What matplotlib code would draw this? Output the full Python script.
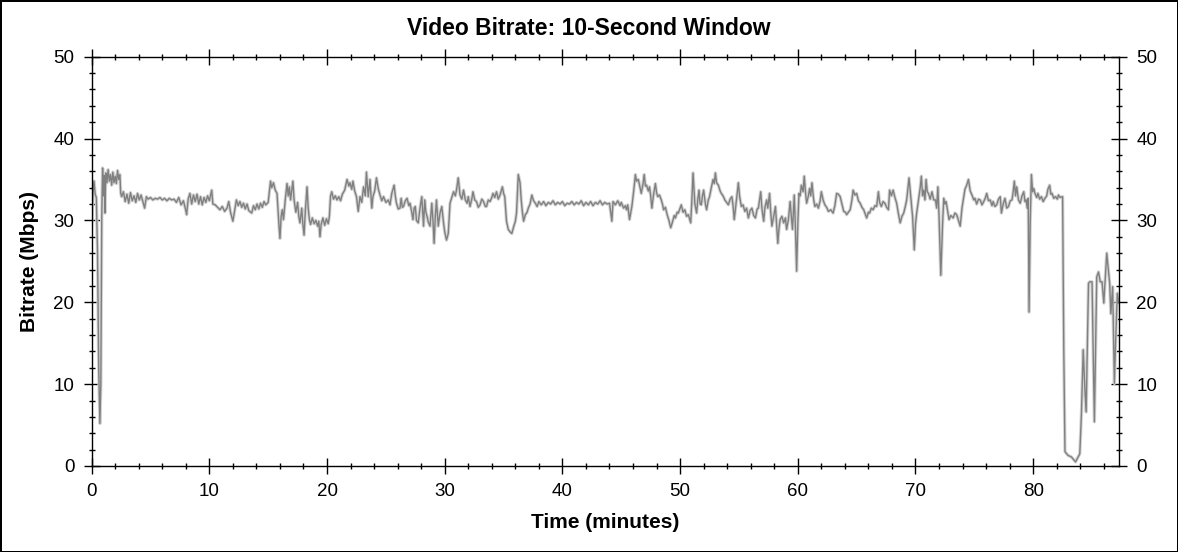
import matplotlib
matplotlib.use("Agg")
import matplotlib.pyplot as plt
from matplotlib.ticker import MultipleLocator

plt.rcParams['font.family'] = ['Liberation Sans', 'DejaVu Sans']

# (minutes, Mbps), segment by segment
opening = [
    (0.0, 29.5), (0.1, 33.0), (0.2, 34.8), (0.3, 33.2), (0.4, 32.8), (0.5, 26.0),
    (0.6, 12.0), (0.7, 5.2), (0.78, 10.0), (0.86, 30.5), (0.93, 36.4), (1.0, 33.0),
    (1.08, 35.5), (1.13, 30.9), (1.2, 35.8), (1.3, 34.6), (1.4, 36.2), (1.5, 34.8),
    (1.6, 35.6), (1.7, 34.3), (1.8, 35.9), (1.9, 34.6), (2.0, 35.4), (2.1, 34.5),
    (2.2, 36.1), (2.3, 35.0), (2.4, 35.6), (2.47, 33.3), (2.55, 32.9), (2.7, 33.5),
    (2.85, 32.3), (3.0, 33.2), (3.15, 32.1), (3.3, 33.4), (3.45, 32.4), (3.6, 33.0),
    (3.75, 32.2), (3.9, 33.3), (4.05, 32.5), (4.2, 33.1), (4.35, 32.3), (4.5, 31.5),
    (4.65, 32.9), (4.8, 32.6), (5.0, 32.8), (5.2, 32.5), (5.4, 32.7), (5.6, 32.6),
    (5.8, 32.8), (6.0, 32.5), (6.2, 32.7), (6.4, 32.4), (6.6, 32.7), (6.8, 32.5),
    (7.0, 32.6), (7.2, 32.2), (7.4, 32.8), (7.6, 31.9), (7.8, 32.4), (8.0, 31.2),
    (8.07, 30.7), (8.2, 32.6), (8.35, 33.3), (8.5, 32.0), (8.65, 33.1), (8.8, 32.3),
    (8.95, 33.2), (9.1, 32.0), (9.25, 32.9), (9.4, 31.9), (9.55, 32.8), (9.7, 32.2),
    (9.85, 33.0), (10.0, 32.4), (10.2, 33.7), (10.3, 32.0), (10.5, 31.9), (10.7, 31.6),
    (10.9, 31.3), (11.1, 31.7), (11.3, 31.1), (11.5, 31.5), (11.65, 32.3), (11.8, 31.0),
    (12.0, 29.9), (12.15, 31.2), (12.3, 32.5), (12.45, 31.8), (12.6, 32.3), (12.75, 31.6),
    (12.9, 32.1), (13.05, 31.4), (13.2, 32.0), (13.35, 31.2), (13.6, 30.9), (13.75, 31.8),
    (13.9, 31.3), (14.05, 32.0), (14.2, 31.4), (14.35, 32.1), (14.5, 31.6), (14.65, 32.3),
    (14.8, 31.9), (15.0, 32.2), (15.1, 33.5), (15.2, 34.8), (15.3, 34.0), (15.45, 34.6),
    (15.6, 33.7), (15.75, 33.3), (15.85, 31.0), (15.92, 29.3), (16.0, 27.8), (16.1, 30.5),
    (16.2, 31.3), (16.3, 30.1), (16.45, 32.5), (16.6, 34.5), (16.7, 33.0), (16.8, 34.1),
    (16.9, 32.5), (17.0, 33.6), (17.1, 34.8), (17.2, 32.5), (17.35, 31.0), (17.5, 32.2),
    (17.6, 30.5), (17.7, 29.7), (17.85, 31.5), (17.95, 29.5), (18.05, 28.2), (18.15, 31.0),
    (18.3, 34.1), (18.4, 31.5), (18.5, 30.1), (18.6, 29.5), (18.75, 30.3), (18.9, 29.6),
    (19.05, 30.0), (19.2, 29.3), (19.3, 29.9), (19.4, 28.0), (19.5, 29.5), (19.65, 30.3),
    (19.8, 29.4), (19.95, 30.2), (20.1, 29.6), (20.2, 30.5), (20.3, 33.0), (20.4, 33.5),
    (20.55, 32.6), (20.7, 33.0), (20.85, 32.5), (21.0, 32.9), (21.15, 32.4), (21.3, 33.2),
    (21.5, 33.7),
]

middle = [
    (21.7, 35.0), (21.85, 34.2), (21.95, 34.6), (22.1, 33.8), (22.2, 34.8), (22.35, 33.6),
    (22.5, 32.9), (22.65, 31.1), (22.8, 32.9), (22.95, 32.2), (23.1, 34.1), (23.25, 33.0),
    (23.35, 35.9), (23.5, 32.9), (23.65, 35.0), (23.8, 31.5), (23.9, 32.9), (24.05, 33.6),
    (24.2, 35.2), (24.35, 33.9), (24.5, 33.1), (24.65, 32.4), (24.8, 32.9), (25.0, 32.2),
    (25.2, 32.5), (25.35, 31.9), (25.5, 33.3), (25.7, 34.3), (25.8, 33.0), (25.9, 32.1),
    (26.05, 31.4), (26.2, 31.5), (26.3, 32.7), (26.4, 31.6), (26.5, 31.7), (26.65, 32.4),
    (26.8, 32.7), (26.95, 31.8), (27.05, 32.1), (27.2, 31.0), (27.3, 30.1), (27.4, 31.5),
    (27.5, 31.7), (27.6, 30.0), (27.75, 29.7), (27.9, 31.5), (28.05, 32.9), (28.15, 30.4),
    (28.2, 29.3), (28.3, 32.5), (28.4, 31.0), (28.5, 30.5), (28.6, 29.8), (28.75, 29.3),
    (28.9, 32.1), (29.0, 30.0), (29.1, 27.2), (29.2, 30.5), (29.3, 32.5), (29.45, 29.3),
    (29.6, 30.9), (29.75, 31.7), (29.9, 29.7), (30.0, 28.6), (30.15, 27.6), (30.3, 28.4),
    (30.45, 32.1), (30.6, 32.8), (30.75, 33.5), (30.9, 33.0), (31.0, 33.7), (31.15, 35.2),
    (31.3, 33.1), (31.45, 32.6), (31.6, 33.7), (31.75, 32.5), (31.9, 32.1), (32.0, 32.9),
    (32.15, 31.7), (32.3, 32.6), (32.4, 33.5), (32.55, 32.5), (32.7, 32.3), (32.85, 31.6),
    (33.0, 31.9), (33.15, 32.6), (33.3, 32.3), (33.45, 31.7), (33.55, 31.7), (33.7, 32.5),
    (33.85, 32.3), (34.0, 32.8), (34.1, 33.3), (34.25, 32.8), (34.4, 33.5), (34.55, 32.6),
    (34.7, 33.1), (34.9, 34.1), (35.0, 33.3), (35.1, 32.9), (35.25, 29.9), (35.4, 28.9),
    (35.55, 28.6), (35.7, 28.4), (35.85, 29.2), (36.0, 29.9), (36.1, 30.9), (36.25, 35.6),
    (36.4, 34.6), (36.5, 32.5), (36.6, 31.0), (36.7, 29.9), (36.85, 30.7), (37.0, 31.0),
    (37.1, 31.5), (37.25, 32.0), (37.4, 33.1), (37.55, 32.4), (37.7, 32.1), (37.85, 31.7),
    (38.0, 32.3), (38.2, 31.9), (38.4, 32.3), (38.6, 31.8), (38.8, 32.2), (39.0, 32.0),
    (39.2, 32.4), (39.4, 31.9), (39.6, 32.2), (39.8, 32.0), (40.0, 32.3), (40.2, 31.8),
    (40.4, 32.1), (40.6, 32.0), (40.8, 32.3), (41.0, 31.9), (41.2, 32.2), (41.4, 32.0),
    (41.6, 32.4), (41.8, 31.8), (42.0, 32.2), (42.2, 31.9), (42.4, 32.3), (42.6, 31.8),
    (42.8, 32.2), (43.0, 32.0), (43.2, 32.4), (43.4, 31.9), (43.6, 32.2), (43.8, 32.0),
    (44.0, 32.1), (44.2, 29.9), (44.3, 32.3), (44.5, 31.9), (44.7, 32.4), (44.9, 31.8),
    (45.0, 32.2), (45.2, 31.5), (45.35, 31.8), (45.45, 31.3), (45.55, 31.9), (45.7, 30.1),
    (45.9, 31.7), (46.05, 33.5), (46.2, 35.6), (46.3, 34.8), (46.45, 35.0), (46.6, 34.0),
    (46.7, 33.3), (46.85, 34.5), (46.95, 35.6), (47.05, 34.2), (47.15, 34.3), (47.3, 33.6),
    (47.4, 34.1), (47.5, 33.0), (47.6, 31.5), (47.75, 33.2), (47.9, 34.5), (48.0, 33.4),
    (48.1, 32.9), (48.25, 33.1), (48.4, 32.5), (48.5, 32.0), (48.6, 31.3), (48.75, 31.6),
    (48.9, 30.7), (49.05, 30.0), (49.2, 29.1), (49.35, 29.8), (49.5, 30.6), (49.6, 30.3),
    (49.75, 31.0), (49.85, 30.9), (50.0, 31.5), (50.1, 31.9), (50.25, 31.0), (50.4, 31.3),
    (50.55, 30.5), (50.7, 30.7), (50.8, 30.2), (50.9, 29.7), (51.0, 32.5), (51.1, 35.8),
    (51.25, 32.1), (51.4, 30.9), (51.5, 32.5), (51.6, 33.7), (51.7, 32.0), (51.8, 31.9),
    (51.9, 33.0), (52.0, 33.7), (52.15, 32.0), (52.25, 31.3), (52.4, 32.5), (52.5, 32.9),
    (52.65, 34.0), (52.8, 35.0), (52.9, 34.5), (53.0, 35.8), (53.1, 34.6), (53.25, 34.3),
    (53.4, 33.6), (53.5, 33.3), (53.65, 33.0), (53.8, 32.5), (53.95, 32.2), (54.1, 31.9),
    (54.25, 32.6), (54.4, 32.9), (54.5, 31.8), (54.6, 30.1), (54.75, 32.0), (54.95, 34.6),
    (55.05, 33.0), (55.2, 31.7), (55.35, 31.9), (55.5, 31.1), (55.65, 31.5), (55.8, 30.3),
    (55.95, 31.2), (56.1, 31.5), (56.25, 30.6), (56.4, 30.3), (56.55, 31.4), (56.65, 31.5),
    (56.75, 32.5), (56.85, 33.5), (56.95, 31.5), (57.1, 29.9), (57.2, 31.5), (57.35, 32.5),
    (57.45, 31.5), (57.6, 33.3), (57.7, 31.0), (57.8, 29.3), (57.95, 30.5), (58.1, 31.7),
    (58.2, 29.5), (58.3, 27.2), (58.4, 29.0), (58.5, 30.1), (58.65, 30.5), (58.8, 29.7),
    (58.95, 30.3), (59.05, 28.9), (59.2, 30.1), (59.35, 32.3), (59.45, 30.5), (59.55, 28.9),
    (59.7, 33.1), (59.8, 29.0), (59.9, 23.8), (60.0, 29.5), (60.1, 33.3), (60.2, 33.0),
]

late = [
    (60.3, 34.3), (60.45, 33.5), (60.55, 35.4), (60.65, 33.5), (60.75, 32.1), (60.9, 33.0),
    (61.0, 33.9), (61.1, 33.0), (61.2, 34.6), (61.35, 32.5), (61.45, 31.7), (61.6, 32.0),
    (61.75, 31.5), (61.9, 32.4), (62.0, 33.5), (62.15, 32.5), (62.3, 31.9), (62.45, 31.6),
    (62.6, 31.1), (62.8, 31.3), (63.0, 30.9), (63.15, 31.8), (63.3, 33.3), (63.45, 33.2),
    (63.6, 32.9), (63.75, 32.0), (63.9, 31.1), (64.05, 31.0), (64.15, 30.7), (64.3, 31.0),
    (64.45, 31.3), (64.6, 32.5), (64.7, 33.7), (64.85, 33.1), (65.0, 33.3), (65.15, 32.4),
    (65.3, 32.1), (65.45, 31.6), (65.6, 31.3), (65.75, 30.7), (65.85, 30.3), (66.0, 31.0),
    (66.1, 30.9), (66.25, 31.5), (66.4, 31.3), (66.55, 31.8), (66.7, 31.7), (66.85, 33.5),
    (66.95, 32.2), (67.1, 31.7), (67.25, 32.3), (67.4, 32.1), (67.55, 31.6), (67.7, 31.3),
    (67.8, 33.7), (67.95, 33.0), (68.1, 33.7), (68.25, 32.8), (68.4, 32.1), (68.55, 30.8),
    (68.7, 29.7), (68.85, 30.5), (69.0, 30.9), (69.15, 31.8), (69.25, 32.5), (69.35, 33.8),
    (69.45, 35.2), (69.6, 32.9), (69.75, 30.5), (69.9, 26.4), (70.0, 29.5), (70.1, 30.9),
    (70.25, 32.5), (70.4, 34.0), (70.5, 35.4), (70.6, 33.0), (70.7, 33.7), (70.8, 32.5),
    (70.9, 35.0), (71.0, 33.5), (71.1, 33.3), (71.25, 32.6), (71.4, 33.5), (71.55, 32.5),
    (71.7, 32.5), (71.8, 31.5), (71.9, 34.1), (72.0, 30.5), (72.15, 23.3), (72.3, 29.5),
    (72.4, 32.7), (72.5, 32.0), (72.6, 32.3), (72.75, 31.0), (72.85, 30.1), (73.0, 30.6),
    (73.2, 30.3), (73.35, 30.9), (73.5, 30.7), (73.65, 30.0), (73.8, 29.3), (73.95, 31.5),
    (74.1, 32.9), (74.2, 33.8), (74.35, 34.3), (74.5, 35.0), (74.65, 33.6), (74.8, 33.1),
    (74.95, 32.5), (75.05, 32.7), (75.2, 32.0), (75.35, 32.6), (75.5, 32.5), (75.65, 31.9),
    (75.8, 32.3), (75.95, 32.8), (76.05, 33.3), (76.2, 32.4), (76.35, 32.5), (76.5, 31.8),
    (76.6, 32.3), (76.75, 31.7), (76.9, 31.9), (77.05, 32.6), (77.2, 32.9), (77.3, 30.9),
    (77.45, 32.0), (77.6, 32.7), (77.75, 31.5), (77.9, 31.7), (78.05, 32.4), (78.2, 32.5),
    (78.3, 33.5), (78.4, 34.8), (78.5, 33.0), (78.6, 34.1), (78.75, 32.5), (78.9, 32.1),
    (79.05, 33.0), (79.2, 33.5), (79.3, 32.3), (79.4, 32.5), (79.5, 31.5), (79.58, 32.7),
    (79.65, 18.8), (79.75, 30.0), (79.85, 35.6), (79.95, 33.5), (80.05, 33.9), (80.15, 33.3),
    (80.3, 32.8), (80.4, 33.3), (80.55, 32.6), (80.7, 32.9), (80.85, 32.3), (81.0, 32.7),
    (81.15, 33.0), (81.25, 33.8), (81.4, 34.3), (81.5, 33.2), (81.6, 33.3), (81.75, 32.7),
    (81.9, 32.9), (82.05, 32.6), (82.15, 33.1), (82.3, 32.8), (82.5, 32.9),
]

credits = [
    (82.6, 14.2), (82.7, 1.75), (82.96, 1.3), (83.25, 1.1), (83.6, 0.5), (83.96, 1.5),
    (84.1, 6.4), (84.25, 14.2), (84.4, 9.2), (84.5, 6.6), (84.7, 22.3), (84.8, 22.5),
    (85.0, 22.5), (85.2, 5.4), (85.4, 23.1), (85.55, 23.7), (85.7, 22.5), (85.85, 22.5),
    (86.0, 19.9), (86.25, 26.0), (86.5, 22.3), (86.6, 18.6), (86.75, 21.9), (86.9, 10.1),
    (87.0, 15.0), (87.15, 21.1), (87.25, 19.9),
]

points = opening + middle + late + credits
minutes = [p[0] for p in points]
mbps = [p[1] for p in points]

fig = plt.figure(figsize=(11.78, 5.52), dpi=100)
fig.patch.set_edgecolor('black')
fig.patch.set_linewidth(2)
ax = fig.add_axes([0.0778, 0.1558, 0.8722, 0.7415])

# soft halo under the trace, like the anti-aliased original
ax.plot(minutes, mbps, color='#d4d4d4', lw=2.4, solid_joinstyle='round')
ax.plot(minutes, mbps, color='#808080', lw=1.0)

ax.set_xlim(0, 87.3)
ax.set_ylim(0, 50)
ax.xaxis.set_major_locator(MultipleLocator(10))
ax.xaxis.set_minor_locator(MultipleLocator(2))
ax.yaxis.set_major_locator(MultipleLocator(10))
ax.yaxis.set_minor_locator(MultipleLocator(2))
ax.tick_params(which='both', direction='inout', top=True, right=True,
               labelright=True, labelsize=13.5, width=1, pad=7)
ax.tick_params(which='major', length=11)
ax.tick_params(which='minor', length=5)
for s in ax.spines.values():
    s.set_linewidth(1)

# title is centred on the whole image, not on the plot area
fig.text(0.5, 0.949, "Video Bitrate: 10-Second Window", fontsize=16.5,
         fontweight='bold', ha='center', va='center')
ax.set_xlabel("Time (minutes)", fontsize=15, fontweight='bold', labelpad=9)
ax.set_ylabel("Bitrate (Mbps)", fontsize=15, fontweight='bold', labelpad=10)

fig.savefig("out.png", dpi=100)
